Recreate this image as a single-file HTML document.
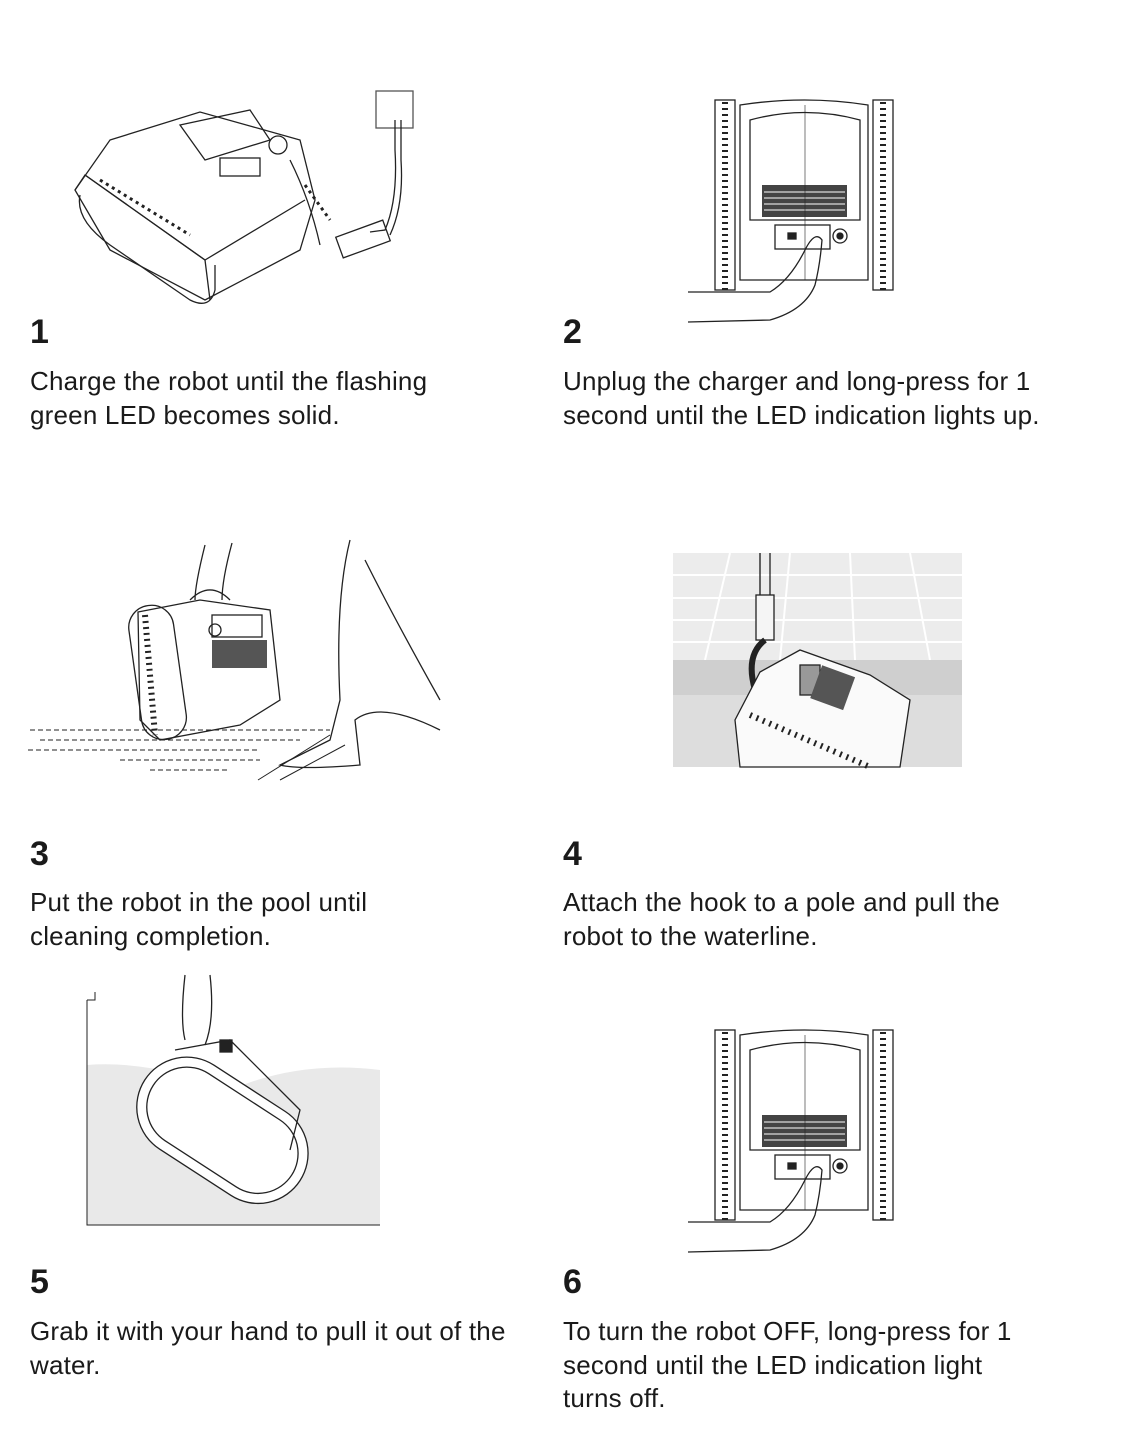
<!DOCTYPE html>
<html><head><meta charset="utf-8"><style>
body{margin:0;background:#fff;width:1140px;height:1432px;position:relative;overflow:hidden;font-family:"Liberation Sans",sans-serif;color:#1a1a1a}
.n{position:absolute;font-size:34px;font-weight:bold;line-height:32px}
.t{position:absolute;font-size:26px;line-height:33.5px;white-space:nowrap;letter-spacing:0.2px}
svg{position:absolute;left:0;top:0}
</style></head><body>
<svg width="1140" height="1432" viewBox="0 0 1140 1432" fill="none" stroke="#222" stroke-width="1.3">
<rect x="376" y="91" width="37" height="37" stroke="#555"/>
<path d="M395 120 L395 150 Q398 200 385 230 L370 232"/>
<path d="M401 120 L401 160 Q404 205 390 235"/>
<rect x="338" y="228" width="50" height="22" transform="rotate(-20 363 239)"/>
<path d="M320 245 Q310 200 290 160"/>
<path d="M110 140 L200 112 L300 140 L315 200 L300 250 L205 300 L110 250 L75 190 Z"/>
<path d="M75 190 L85 175 L205 260 L210 300"/>
<path d="M85 175 L205 260 L305 200" />
<path d="M80 195 Q75 220 110 245 L190 300 Q210 310 215 290 L215 265"/>
<path d="M180 125 L250 110 L270 140 L205 160 Z"/>
<g stroke-width="3"><path d="M100 180 L190 235" stroke-dasharray="3 4"/><path d="M305 185 L330 220" stroke-dasharray="3 4"/></g>
<rect x="220" y="158" width="40" height="18"/>
<circle cx="278" cy="145" r="9"/>
<g>
<rect x="715" y="100" width="20" height="190"/>
<rect x="873" y="100" width="20" height="190"/>
<g stroke-width="6" stroke-dasharray="2 4"><path d="M725 102 L725 290"/><path d="M883 102 L883 290"/></g>
<path d="M740 105 Q805 95 868 105 L868 280 L740 280 Z"/>
<path d="M750 120 Q805 105 860 120 L860 220 L750 220 Z"/>
<rect x="762" y="185" width="85" height="32" fill="#444" stroke="none"/>
<g stroke="#fff" stroke-width="1"><path d="M764 192H845M764 198H845M764 204H845M764 210H845"/></g>
<rect x="775" y="225" width="55" height="24"/>
<rect x="788" y="233" width="8" height="6" fill="#222"/>
<circle cx="840" cy="236" r="7"/><circle cx="840" cy="236" r="3" fill="#222"/>
<path d="M805 105 L805 280" stroke-width=".6"/>
</g>
<path d="M688 292 L770 292 Q790 280 805 250 Q815 230 822 240 Q820 265 815 285 Q805 310 770 320 L688 322"/>
<path d="M138 612 L200 600 L270 610 L280 700 L240 725 L160 740 L140 720 Z"/>
<rect x="135" y="605" width="45" height="135" rx="22" transform="rotate(-8 157 672)"/>
<g stroke-width="6" stroke-dasharray="2 4"><path d="M145 615 L155 735"/></g>
<rect x="212" y="615" width="50" height="22"/>
<circle cx="215" cy="630" r="6"/>
<rect x="212" y="640" width="55" height="28" fill="#555" stroke="none"/>
<path d="M205 545 Q195 585 195 600 M232 543 Q222 580 222 600 M190 600 Q210 580 230 600"/>
<path d="M350 540 Q335 600 340 700 L330 740 L280 765 Q300 770 360 765 L355 720 Q380 700 440 730 M365 560 Q395 620 440 700"/>
<path d="M30 730 L330 730 M28 750 L260 750 M40 740 L300 740 M120 760 L260 760 M150 770 L230 770" stroke-dasharray="5 3" stroke-width="1"/>
<path d="M258 780 L330 735 M280 780 L345 745" stroke-width="1"/>
<rect x="673" y="553" width="289" height="107" fill="#ececec" stroke="none"/>
<g stroke="#fff" stroke-width="2"><path d="M673 575H962M673 598H962M673 620H962M673 642H962M730 553L705 660M790 553L780 660M850 553L855 660M910 553L930 660"/></g>
<rect x="673" y="660" width="289" height="35" fill="#cfcfcf" stroke="none"/>
<rect x="673" y="695" width="289" height="72" fill="#dddddd" stroke="none"/>
<path d="M760 553V640" stroke="#333" stroke-width="1.5"/><path d="M770 553V640"/>
<rect x="756" y="595" width="18" height="45" fill="#f5f5f5"/>
<path d="M765 640 Q745 655 755 690" stroke="#222" stroke-width="6"/>
<path d="M760 672 L800 650 L870 675 L910 700 L900 767 L740 767 L735 720 Z" fill="#fafafa"/>
<rect x="800" y="665" width="20" height="30" fill="#999"/>
<rect x="815" y="670" width="35" height="35" fill="#555" stroke="none" transform="rotate(20 832 688)"/>
<path d="M750 715 L870 767" stroke-width="6" stroke-dasharray="2 5"/>
<path d="M87 1065 Q150 1060 230 1090 Q300 1060 380 1070 L380 1225 L87 1225 Z" fill="#e9e9e9" stroke="none"/>
<path d="M87 1000 L87 1225 L380 1225" stroke-width="1"/><path d="M87 1000 L95 1000 L95 992" stroke-width="1"/>
<rect x="130" y="1080" width="185" height="100" rx="50" transform="rotate(33 222 1130)" fill="#fff"/>
<rect x="140" y="1090" width="165" height="80" rx="40" transform="rotate(33 222 1130)"/>
<path d="M175 1050 L230 1040 L300 1110 L290 1150" />
<path d="M185 975 Q180 1020 185 1040 M210 975 Q215 1020 205 1045"/>
<rect x="220" y="1040" width="12" height="12" fill="#222"/>
<g transform="translate(0,930)">
<rect x="715" y="100" width="20" height="190"/>
<rect x="873" y="100" width="20" height="190"/>
<g stroke-width="6" stroke-dasharray="2 4"><path d="M725 102 L725 290"/><path d="M883 102 L883 290"/></g>
<path d="M740 105 Q805 95 868 105 L868 280 L740 280 Z"/>
<path d="M750 120 Q805 105 860 120 L860 220 L750 220 Z"/>
<rect x="762" y="185" width="85" height="32" fill="#444" stroke="none"/>
<g stroke="#fff" stroke-width="1"><path d="M764 192H845M764 198H845M764 204H845M764 210H845"/></g>
<rect x="775" y="225" width="55" height="24"/>
<rect x="788" y="233" width="8" height="6" fill="#222"/>
<circle cx="840" cy="236" r="7"/><circle cx="840" cy="236" r="3" fill="#222"/>
<path d="M805 105 L805 280" stroke-width=".6"/>
<path d="M688 292 L770 292 Q790 280 805 250 Q815 230 822 240 Q820 265 815 285 Q805 310 770 320 L688 322"/>
</g>
</svg>
<div class="n" style="left:30px;top:316px">1</div>
<div class="t" style="left:30px;top:365px">Charge the robot until the flashing<br>green LED becomes solid.</div>
<div class="n" style="left:563px;top:316px">2</div>
<div class="t" style="left:563px;top:365px">Unplug the charger and long-press for 1<br>second until the LED indication lights up.</div>
<div class="n" style="left:30px;top:838px">3</div>
<div class="t" style="left:30px;top:886px">Put the robot in the pool until<br>cleaning completion.</div>
<div class="n" style="left:563px;top:838px">4</div>
<div class="t" style="left:563px;top:886px">Attach the hook to a pole and pull the<br>robot to the waterline.</div>
<div class="n" style="left:30px;top:1266px">5</div>
<div class="t" style="left:30px;top:1315px">Grab it with your hand to pull it out of the<br>water.</div>
<div class="n" style="left:563px;top:1266px">6</div>
<div class="t" style="left:563px;top:1315px">To turn the robot OFF, long-press for 1<br>second until the LED indication light<br>turns off.</div>
</body></html>
